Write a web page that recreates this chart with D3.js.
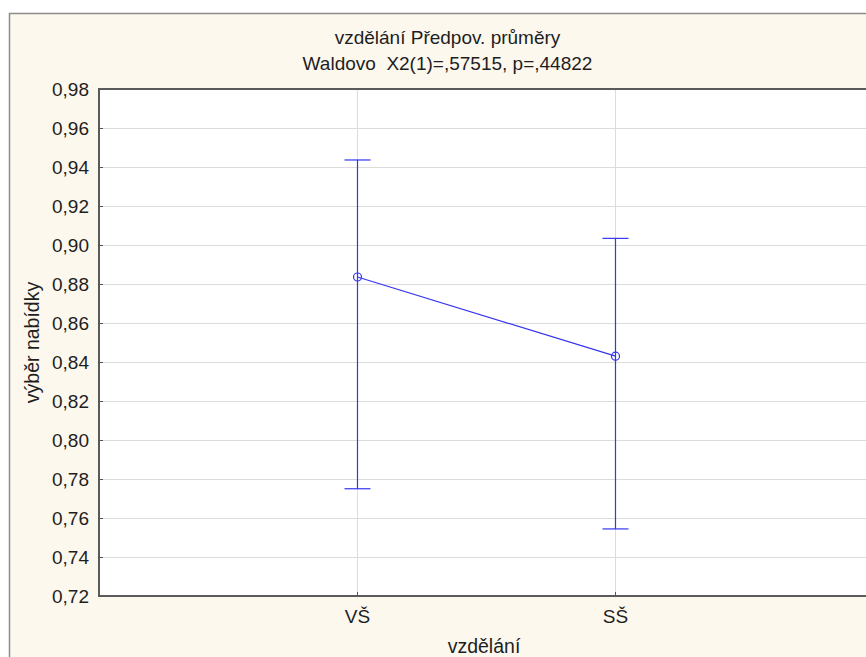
<!DOCTYPE html>
<html><head><meta charset="utf-8">
<script src="https://cdn.jsdelivr.net/npm/d3@7"></script>
<style>
html,body{margin:0;padding:0;background:#fff;}
svg{display:block;font-family:"Liberation Sans",Arial,sans-serif;}
</style></head>
<body>
<svg id="c" width="866" height="657"></svg>
<script>
const categories = ["VŠ", "SŠ"];
const means = [0.8836, 0.8430];
const upper = [0.9436, 0.9034];
const lower = [0.7750, 0.7544];
const yTicks = [0.72,0.74,0.76,0.78,0.80,0.82,0.84,0.86,0.88,0.90,0.92,0.94,0.96,0.98];
const titleLines = ["vzdělání Předpov. průměry", "Waldovo  X2(1)=,57515, p=,44822"];
const xLabel = "vzdělání";
const yLabel = "výběr nabídky";

const svg = d3.select("#c");
const W = 866, H = 657;
const L = 99, T = 89, B = 596, R = 873;
const FONT = "Liberation Sans, Arial, sans-serif";
const TXT = "#1e1e1e";

// outer panel
svg.append("rect").attr("x",0).attr("y",0).attr("width",W).attr("height",H).attr("fill","#fff");
svg.append("rect").attr("x",9.5).attr("y",13.5).attr("width",W).attr("height",H).attr("fill","#fdf8ee").attr("stroke","#8c8c8c").attr("stroke-width",1.5);

const y = d3.scaleLinear().domain([0.72,0.98]).range([B,T]);
const x = d3.scalePoint().domain(["", ...categories, " "]).range([L,R]);

// plot area
svg.append("rect").attr("x",L).attr("y",T).attr("width",R-L).attr("height",B-T).attr("fill","#fff");

// grid
svg.append("g").selectAll("line").data(yTicks.slice(1,-1)).join("line")
  .attr("x1",L).attr("x2",R).attr("y1",d=>Math.round(y(d))+0.5).attr("y2",d=>Math.round(y(d))+0.5)
  .attr("stroke","#dcdcdc").attr("stroke-width",1);
svg.append("g").selectAll("line").data(categories).join("line")
  .attr("x1",d=>Math.round(x(d))+0.5).attr("x2",d=>Math.round(x(d))+0.5).attr("y1",T).attr("y2",B)
  .attr("stroke","#dcdcdc").attr("stroke-width",1);

// axes
const fmt = d => d3.format(".2f")(d).replace(".", ",");
const yAxis = svg.append("g").attr("transform",`translate(${L},0)`)
  .call(d3.axisLeft(y).tickValues(yTicks).tickFormat(fmt).tickSizeInner(-4).tickSizeOuter(0).tickPadding(10));
yAxis.select(".domain").remove();
yAxis.selectAll("line").attr("stroke","#555");
yAxis.selectAll("text").attr("font-size",19).attr("fill",TXT).attr("font-family",FONT);

const xAxis = svg.append("g").attr("transform",`translate(0,${B})`)
  .call(d3.axisBottom(x).tickValues(categories).tickSizeInner(-4).tickSizeOuter(0).tickPadding(14));
xAxis.select(".domain").remove();
xAxis.selectAll("line").attr("stroke","#555");
xAxis.selectAll("text").attr("font-size",19).attr("fill",TXT).attr("font-family",FONT);

// frame
svg.append("path").attr("d",`M${R},${T}H${L}V${B}H${R}`).attr("fill","none").attr("stroke","#5a5a5a").attr("stroke-width",2);

// error bars
const blue = "#3535f0";
const g = svg.append("g");
categories.forEach((c,i)=>{
  const cx = Math.round(x(c))+0.5;
  g.append("line").attr("x1",cx).attr("x2",cx).attr("y1",y(upper[i])).attr("y2",y(lower[i])).attr("stroke",blue).attr("stroke-width",1.2);
  [upper[i],lower[i]].forEach(v=>{
    g.append("line").attr("x1",cx-13).attr("x2",cx+13).attr("y1",y(v)).attr("y2",y(v)).attr("stroke",blue).attr("stroke-width",1.2);
  });
});
const line = d3.line().x((d,i)=>Math.round(x(categories[i]))+0.5).y(d=>y(d));
g.append("path").attr("d",line(means)).attr("fill","none").attr("stroke",blue).attr("stroke-width",1.2);
g.selectAll("circle").data(means).join("circle")
  .attr("cx",(d,i)=>Math.round(x(categories[i]))+0.5).attr("cy",d=>y(d)).attr("r",4)
  .attr("fill","none").attr("stroke",blue).attr("stroke-width",1.2);

// titles
svg.selectAll(".title").data(titleLines).join("text")
  .attr("x",447.5).attr("y",(d,i)=>44+i*26).attr("text-anchor","middle")
  .attr("font-size",19).attr("fill",TXT).style("white-space","pre").text(d=>d);
svg.append("text").attr("x",(L+R)/2 - 2).attr("y",653).attr("text-anchor","middle")
  .attr("font-size",19.5).attr("fill",TXT).text(xLabel);
svg.append("text").attr("transform",`translate(39,${(T+B)/2}) rotate(-90)`).attr("text-anchor","middle")
  .attr("font-size",19.5).attr("fill",TXT).text(yLabel);
</script>
</body></html>
